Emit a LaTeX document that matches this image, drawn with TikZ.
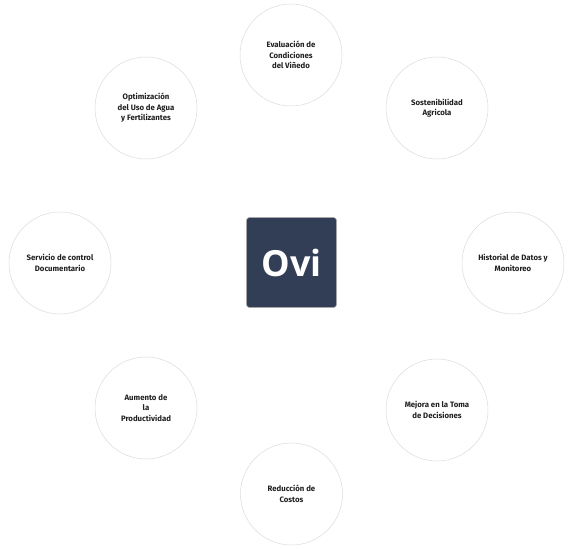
\documentclass[tikz,border=0pt]{standalone}
\usepackage{fontspec}
\setmainfont{Fira Sans}
\newfontfamily\ovifont{Open Sans}
\begin{document}
\begin{tikzpicture}[x=1pt,y=-1pt,
  item/.style={circle,draw=black!14,line width=0.5pt,fill=white,minimum size=102pt,inner sep=0pt,
    align=center,font=\fontsize{7.8}{10.5}\selectfont\bfseries,text=black!88},
  hub/.style={draw=black!35,line width=0.6pt,fill=hubfill,rounded corners=3pt,minimum size=90pt,inner sep=0pt,
    text=white,font=\ovifont\fontsize{36}{36}\selectfont\bfseries}]
\definecolor{hubfill}{HTML}{323E56}
\useasboundingbox (0,0) rectangle (572,548);
\node[hub] (hub) at (291.5,262.5) {Ovi};
\node[item] (top) at (291,55) {Evaluación de\\Condiciones\\del Viñedo};
\node[item] (ur) at (437,108) {Sostenibilidad\\Agricola};
\node[item] (r) at (513,263) {Historial de Datos y\\Monitoreo};
\node[item] (lr) at (437,410) {Mejora en la Toma\\de Decisiones};
\node[item] (b) at (291.5,494) {Reducción de\\Costos};
\node[item] (ll) at (146,408) {Aumento de\\la\\Productividad};
\node[item] (l) at (60,263) {Servicio de control\\Documentario};
\node[item] (ul) at (146,108) {Optimización\\del Uso de Agua\\y Fertilizantes};
\end{tikzpicture}
\end{document}
